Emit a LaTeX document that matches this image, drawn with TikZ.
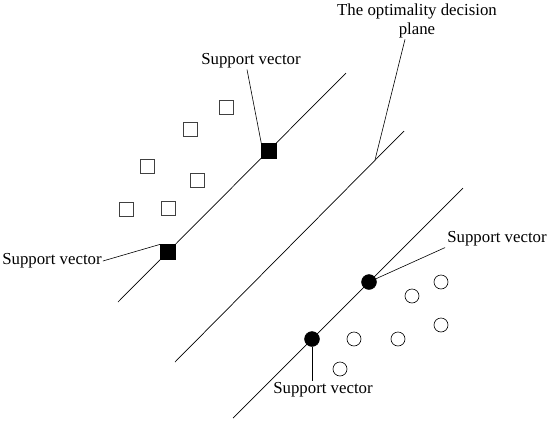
\documentclass[tikz,border=0pt]{standalone}
\usepackage{fontspec}
\setmainfont{Liberation Serif}
\usepackage{tikz}
\usetikzlibrary{calc}

\begin{document}
\begin{tikzpicture}[x=1pt, y=-1pt,
    openbox/.style={draw=black!75, line width=0.6pt, fill=white, minimum size=14pt, inner sep=0pt},
    fullbox/.style={draw=black, fill=black, minimum size=15pt, inner sep=0pt},
    opendot/.style={circle, draw=black, line width=0.6pt, minimum size=14pt, inner sep=0pt},
    fulldot/.style={circle, draw=black, fill=black, minimum size=15pt, inner sep=0pt},
    lbl/.style={font=\fontsize{16.8}{19}\selectfont, inner sep=1pt}]
  \useasboundingbox (0,0) rectangle (550,429);

  % the three parallel lines
  \draw[color=black, line width=0.7pt] (118,302) -- (346,73);
  \draw[color=black, line width=0.7pt] (175,362) -- (404,131);
  \draw[color=black, line width=0.7pt] (233,418) -- (463,188);

  % squares
  \node[openbox] (sq1) at (226,107) {};
  \node[openbox] (sq2) at (190,129) {};
  \node[openbox] (sq3) at (147,166) {};
  \node[openbox] (sq4) at (197,180) {};
  \node[openbox] (sq5) at (126,209) {};
  \node[openbox] (sq6) at (168,208) {};
  \node[fullbox] (sv1) at (168,252) {};
  \node[fullbox] (sv2) at (269,151) {};

  % circles
  \node[opendot] (ci1) at (441,282) {};
  \node[opendot] (ci2) at (412,296) {};
  \node[opendot] (ci3) at (441,325) {};
  \node[opendot] (ci4) at (398,339) {};
  \node[opendot] (ci5) at (354,339) {};
  \node[opendot] (ci6) at (340,369) {};
  \node[fulldot] (sc1) at (312,339) {};
  \node[fulldot] (sc2) at (369,282) {};

  % labels
  \node[lbl] (lbtop) at (251,61) {Support vector};
  \node[lbl] (lbleft) at (52,261) {Support vector};
  \node[lbl] (lbright) at (497,239) {Support vector};
  \node[lbl] (lbbottom) at (323,390) {Support vector};
  \node[lbl, align=center] (lbplane) at (417,21) {The optimality decision\\plane};
  \coordinate (foot) at (375,160);

  \draw[color=black, line width=0.6pt] ([xshift=-4pt]lbtop.south) -- (sv2.north west);
  \draw[color=black, line width=0.6pt] (lbleft.east) -- (sv1.north west);
  \draw[color=black, line width=0.6pt] ([xshift=-1pt]lbright.south west) -- (sc2.25);
  \draw[color=black, line width=0.6pt] (sc1.south) -- (sc1.south |- lbbottom.north);
  \draw[color=black, line width=0.6pt] ([xshift=-12pt]lbplane.south) -- (foot);

\end{tikzpicture}
\end{document}
